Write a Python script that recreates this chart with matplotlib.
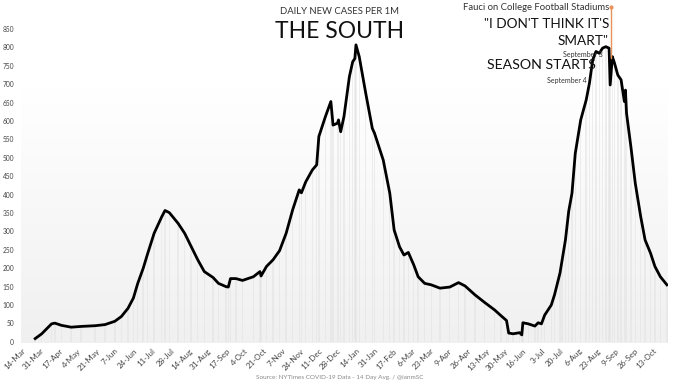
import matplotlib
matplotlib.use("Agg")
import matplotlib.pyplot as plt
import matplotlib.dates as mdates
import numpy as np
import pandas as pd
from matplotlib.colors import LinearSegmentedColormap

plt.rcParams['font.family'] = ['Lato', 'DejaVu Sans']

# 14-day average of daily new cases per 1M
dates = ["2020-03-26", "2020-04-01", "2020-04-10", "2020-04-13", "2020-04-19", "2020-04-28",
         "2020-05-07", "2020-05-20", "2020-05-29", "2020-06-07", "2020-06-13", "2020-06-19",
         "2020-06-24", "2020-06-28", "2020-07-03", "2020-07-07", "2020-07-13", "2020-07-20",
         "2020-07-23", "2020-07-27", "2020-08-04", "2020-08-10", "2020-08-16", "2020-08-22",
         "2020-08-28", "2020-09-05", "2020-09-10", "2020-09-17", "2020-09-19", "2020-09-21",
         "2020-09-26", "2020-10-02", "2020-10-12", "2020-10-18", "2020-10-19", "2020-10-24",
         "2020-10-30", "2020-11-05", "2020-11-11", "2020-11-17", "2020-11-23", "2020-11-25",
         "2020-11-29", "2020-12-05", "2020-12-09", "2020-12-11", "2020-12-17", "2020-12-22",
         "2020-12-24", "2020-12-28", "2020-12-29", "2020-12-31", "2021-01-03", "2021-01-08",
         "2021-01-11", "2021-01-13", "2021-01-14", "2021-01-17", "2021-01-23", "2021-01-29",
         "2021-01-31", "2021-02-08", "2021-02-14", "2021-02-18", "2021-02-23", "2021-02-27",
         "2021-03-03", "2021-03-08", "2021-03-12", "2021-03-18", "2021-03-24", "2021-04-01",
         "2021-04-10", "2021-04-18", "2021-04-24", "2021-05-03", "2021-05-12", "2021-05-21",
         "2021-05-27", "2021-06-01", "2021-06-03", "2021-06-07", "2021-06-13", "2021-06-15",
         "2021-06-16", "2021-06-21", "2021-06-27", "2021-06-30", "2021-07-03", "2021-07-06",
         "2021-07-12", "2021-07-15", "2021-07-20", "2021-07-22", "2021-07-25", "2021-07-28",
         "2021-07-31", "2021-08-03", "2021-08-08", "2021-08-13", "2021-08-16", "2021-08-19",
         "2021-08-22", "2021-08-25", "2021-08-28", "2021-08-31", "2021-09-03", "2021-09-04",
         "2021-09-06", "2021-09-08", "2021-09-11", "2021-09-14", "2021-09-17", "2021-09-18",
         "2021-09-19", "2021-09-23", "2021-09-27", "2021-10-02", "2021-10-06", "2021-10-11",
         "2021-10-15", "2021-10-20", "2021-10-26"]
cases = [9, 22, 49, 51, 45, 40,
         42, 44, 47, 56, 69, 91,
         119, 159, 200, 239, 295, 340,
         357, 351, 322, 295, 259, 223,
         191, 175, 159, 150, 149, 172,
         172, 167, 177, 191, 179, 205,
         223, 248, 295, 359, 413, 405,
         435, 467, 481, 558, 612, 653,
         589, 594, 603, 571, 612, 721,
         761, 770, 807, 775, 675, 580,
         567, 494, 404, 304, 258, 236,
         243, 209, 177, 159, 155, 146,
         149, 161, 152, 128, 107, 87,
         71, 58, 24, 22, 25, 19,
         52, 49, 43, 52, 49, 73,
         100, 128, 187, 223, 277, 355,
         404, 512, 603, 657, 703, 766,
         789, 784, 798, 802, 798, 698,
         775, 757, 725, 712, 653, 684,
         621, 530, 431, 340, 277, 241,
         205, 177, 155]

tick_labels = ["14-Mar", "31-Mar", "17-Apr", "4-May", "21-May", "7-Jun", "24-Jun", "11-Jul",
               "28-Jul", "14-Aug", "31-Aug", "17-Sep", "4-Oct", "21-Oct", "7-Nov", "24-Nov",
               "11-Dec", "28-Dec", "14-Jan", "31-Jan", "17-Feb", "6-Mar", "23-Mar", "9-Apr",
               "26-Apr", "13-May", "30-May", "16-Jun", "3-Jul", "20-Jul", "6-Aug", "23-Aug",
               "9-Sep", "26-Sep", "13-Oct"]
y_ticks = list(range(0, 851, 50))

x = pd.to_datetime(dates)
start = pd.Timestamp("2020-03-14")
tick_pos = [start + pd.Timedelta(days=17 * i) for i in range(len(tick_labels))]

W, H = 680, 383
fig = plt.figure(figsize=(W / 100, H / 100), dpi=100)
fig.patch.set_facecolor("white")

def px(xp, yp):
    return xp / W, 1 - yp / H

ax_l, ax_r, ax_b, ax_t = 21, 668, 343, 10
ax = fig.add_axes([ax_l / W, 1 - ax_b / H, (ax_r - ax_l) / W, (ax_b - ax_t) / H])
ax.set_facecolor("white")
y_top = (342 - ax_t) / 0.3682
ax.set_ylim(-3, y_top)
xmin = start - pd.Timedelta(days=1)
xmax = start + pd.Timedelta(days=592)
ax.set_xlim(xmin, xmax)

# gradient background
grad = np.linspace(0, 1, 256).reshape(-1, 1)
cmap = LinearSegmentedColormap.from_list("g", ["#f0f0f0", "#ffffff"])
ax.imshow(grad, aspect="auto", cmap=cmap, origin="lower",
          extent=[mdates.date2num(xmin), mdates.date2num(xmax), -3, 690], zorder=0)

# faint bars
ax.bar(x, cases, width=1.3, color="#e2e2e2", alpha=0.55, zorder=1, linewidth=0)

ax.plot(x, cases, color="black", lw=2.0, zorder=4, solid_joinstyle="round")

for s in ax.spines.values():
    s.set_visible(False)
ax.set_yticks(y_ticks)
ax.set_yticklabels([str(v) for v in y_ticks], fontsize=4.8, color="#444444")
ax.tick_params(axis="y", length=0, pad=5)
ax.set_xticks(tick_pos)
ax.set_xticklabels(tick_labels, rotation=45, ha="right", rotation_mode="anchor",
                   fontsize=5.8, color="#444444")
ax.tick_params(axis="x", length=0, pad=3)

# annotations
fauci_date = pd.Timestamp("2021-09-05")
ax.plot([fauci_date, fauci_date], [770, (342 - 7) / 0.3682], color="#e8915a", lw=1.0,
        zorder=5, clip_on=False)
ax.plot([fauci_date], [(342 - 7) / 0.3682], marker="o", ms=2, color="#e8915a",
        zorder=5, clip_on=False)

fig.text(*px(340, 12), "DAILY NEW CASES PER 1M", ha="center", va="center",
         fontsize=6.8, color="#333333")
fig.text(*px(340, 31), "THE SOUTH", ha="center", va="center",
         fontsize=16.5, color="#111111")
fig.text(*px(609, 8), "Fauci on College Football Stadiums", ha="right", va="center",
         fontsize=6.8, color="#333333", zorder=2)
fig.text(*px(609, 24), "\"I DON'T THINK IT'S", ha="right", va="center",
         fontsize=9.8, color="#111111", zorder=2)
fig.text(*px(609, 41), "SMART\"", ha="right", va="center",
         fontsize=9.8, color="#111111", zorder=2)
fig.text(*px(563, 54), "September 3", ha="left", va="center",
         fontsize=5.0, color="#333333", zorder=2)
fig.text(*px(596, 65), "SEASON STARTS", ha="right", va="center",
         fontsize=10.2, color="#111111", zorder=2)
fig.text(*px(547, 80), "September 4", ha="left", va="center",
         fontsize=5.0, color="#333333", zorder=2)
fig.text(*px(340, 378), "Source: NYTimes COVID-19 Data - 14 Day Avg. / @ianmSC",
         ha="center", va="center", fontsize=4.6, color="#888888")

fig.savefig("out.png", dpi=100)
